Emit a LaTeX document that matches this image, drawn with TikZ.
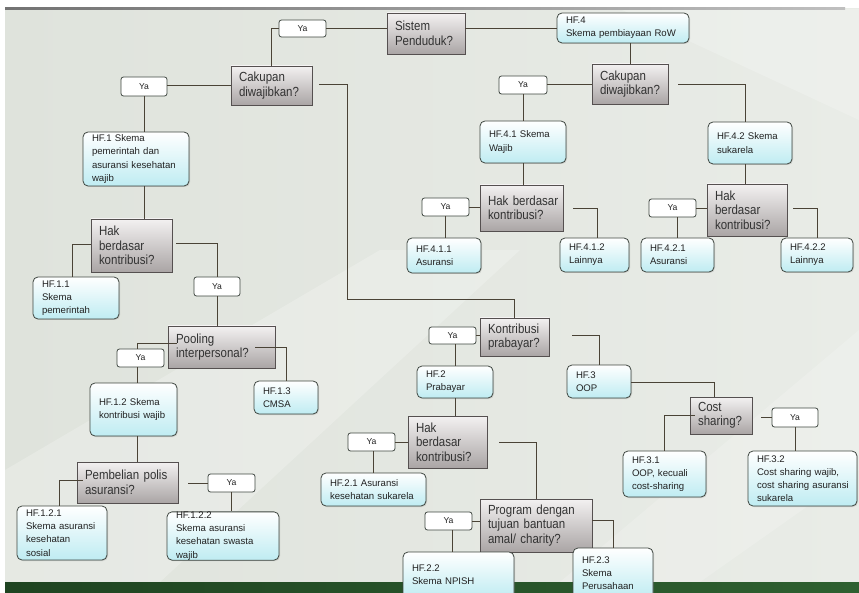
\documentclass[tikz,border=0pt]{standalone}
\usepackage{fontspec}
\setmainfont{Liberation Sans}
\newfontfamily\decfont[FakeStretch=0.87]{Liberation Sans}
\usetikzlibrary{shadows}
\definecolor{bgL}{HTML}{DFE3DC}
\definecolor{bgR}{HTML}{E9ECE7}
\definecolor{lnc}{HTML}{4A4336}
\definecolor{dbd}{HTML}{555050}
\definecolor{dtop}{HTML}{F3F1F1}
\definecolor{dbot}{HTML}{AAA5A5}
\definecolor{dtxt}{HTML}{333333}
\definecolor{rbd}{HTML}{3F4741}
\definecolor{rbot}{HTML}{BFECF2}
\definecolor{rtxt}{HTML}{222222}
\definecolor{gA}{HTML}{1F4421}
\definecolor{gB}{HTML}{4A8A3E}
\definecolor{gC}{HTML}{2E6030}
\hyphenpenalty=10000
\exhyphenpenalty=10000

\newcommand\DBox[6]{%
  \pgfmathsetlengthmacro\myBW{#4-#2}%
  \pgfmathsetlengthmacro\myBH{#5-#3}%
  \pgfmathsetlengthmacro\myTW{#4-#2-16}%
  \node[dbox, minimum width=\myBW, minimum height=\myBH, text width=\myTW] (#1) at ({(#2+#4)/2},{(#3+#5)/2}) {#6};}
\newcommand\RBox[6]{%
  \pgfmathsetlengthmacro\myBW{#4-#2}%
  \pgfmathsetlengthmacro\myBH{#5-#3}%
  \pgfmathsetlengthmacro\myTW{#4-#2-18}%
  \node[rbox, minimum width=\myBW, minimum height=\myBH, text width=\myTW] (#1) at ({(#2+#4)/2},{(#3+#5)/2}) {#6};}
\newcommand\YBox[5]{%
  \pgfmathsetlengthmacro\myBW{#4-#2}%
  \pgfmathsetlengthmacro\myBH{#5-#3}%
  \node[ybox, minimum width=\myBW, minimum height=\myBH] (#1) at ({(#2+#4)/2},{(#3+#5)/2}) {Ya};}

\begin{document}
\begin{tikzpicture}[x=1pt,y=-1pt,
  conn/.style={draw=lnc, line width=0.9pt},
  dbox/.style={draw=dbd, line width=0.8pt, top color=dtop, bottom color=dbot,
    inner sep=0pt, align=left, text=dtxt,
    font=\decfont\fontsize{13.2}{14.5}\selectfont,
    drop shadow={shadow xshift=1.2pt, shadow yshift=-1.2pt, opacity=0.3}},
  rbox/.style={draw=rbd, line width=0.8pt, rounded corners=5pt,
    top color=white, bottom color=rbot, inner sep=0pt, align=left, text=rtxt,
    font=\fontsize{9.6}{13.2}\selectfont,
    drop shadow={shadow xshift=1pt, shadow yshift=-1pt, opacity=0.25}},
  ybox/.style={draw=rbd, line width=0.8pt, rounded corners=2.5pt, fill=white,
    inner sep=0pt, text=rtxt, font=\fontsize{8.6}{9}\selectfont}]
\useasboundingbox (0,0) rectangle (859,593);
% background
\fill[white] (0,0) rectangle (859,593);
\shade[left color=bgL, right color=bgR] (5,9) rectangle (859,582);
\fill[white, opacity=0.22] (5,470) -- (380,250) -- (520,250) -- (160,582) -- (5,582) -- cycle;
\fill[white, opacity=0.18] (560,582) -- (859,330) -- (859,470) -- (700,582) -- cycle;
\fill[white, opacity=0.2] (620,9) -- (859,9) -- (859,120) -- cycle;
\shade[left color=black!55, right color=black!25] (5,7.5) rectangle (845,9.5);
\shade[left color=gA, middle color=gB, right color=gC] (5,582) rectangle (859,593);

% decision boxes
\DBox{sp}{387}{13}{465}{54}{Sistem\\Penduduk?}
\DBox{cak1}{231}{66}{312}{105}{Cakupan\\diwajibkan?}
\DBox{cak4}{592}{64}{668}{104}{Cakupan\\diwajibkan?}
\DBox{hak1}{91}{219}{172}{272}{Hak\\berdasar\\kontribusi?}
\DBox{pool}{168}{326}{275}{368}{Pooling\\interpersonal?}
\DBox{pemb}{77}{462}{178}{503}{Pembelian~polis\\asuransi?}
\DBox{hak41}{480}{185}{563}{231}{Hak~berdasar\\kontribusi?}
\DBox{hak42}{707}{184}{787}{236}{Hak\\berdasar\\kontribusi?}
\DBox{kon}{480}{318}{549}{356}{Kontribusi\\prabayar?}
\DBox{hak2}{408}{416}{487}{468}{Hak\\berdasar\\kontribusi?}
\DBox{prog}{480}{499}{592}{552}{Program~dengan\\tujuan~bantuan\\amal/~charity?}
\DBox{cost}{690}{397}{752}{434}{Cost\\sharing?}

% result boxes
\RBox{hf4}{557}{13}{689}{43}{HF.4\\Skema~pembiayaan~RoW}
\RBox{hf1}{83}{132}{189}{186}{HF.1~Skema\\pemerintah~dan\\asuransi~kesehatan\\wajib}
\RBox{hf41}{480}{121}{566}{163}{HF.4.1~Skema\\Wajib}
\RBox{hf42}{708}{122}{792}{164}{HF.4.2~Skema\\sukarela}
\RBox{hf411}{407}{238}{481}{273}{HF.4.1.1\\Asuransi}
\RBox{hf412}{560}{238}{629}{272}{HF.4.1.2\\Lainnya}
\RBox{hf421}{641}{238}{714}{272}{HF.4.2.1\\Asuransi}
\RBox{hf422}{781}{238}{853}{272}{HF.4.2.2\\Lainnya}
\RBox{hf11}{33}{277}{119}{319}{HF.1.1\\Skema\\pemerintah}
\RBox{hf13}{254}{381}{318}{414}{HF.1.3\\CMSA}
\RBox{hf12}{90}{383}{177}{436}{HF.1.2~Skema\\kontribusi~wajib}
\RBox{hf121}{17}{506}{107}{560}{HF.1.2.1\\Skema~asuransi\\kesehatan\\sosial}
\RBox{hf122}{167}{512}{279}{560}{HF.1.2.2\\Skema~asuransi\\kesehatan~swasta\\wajib}
\RBox{hf21}{321}{473}{426}{506}{HF.2.1~Asuransi\\kesehatan~sukarela}
\RBox{hf2}{417}{366}{493}{398}{HF.2\\Prabayar}
\RBox{hf3}{567}{365}{631}{398}{HF.3\\OOP}
\RBox{hf31}{623}{451}{706}{497}{HF.3.1\\OOP,~kecuali\\cost-sharing}
\RBox{hf32}{748}{451}{857}{506}{HF.3.2\\Cost~sharing~wajib,\\cost~sharing~asuransi\\sukarela}
\RBox{hf22}{403}{552}{514}{598}{HF.2.2\\Skema~NPISH}
\RBox{hf23}{573}{548}{653}{598}{HF.2.3\\Skema\\Perusahaan}

% Ya boxes
\YBox{y0}{279}{20}{326}{37}
\YBox{y1}{121}{77}{167}{96}
\YBox{y4}{499}{76}{547}{94}
\YBox{yh1}{194}{277}{240}{296}
\YBox{ypool}{117}{349}{164}{367}
\YBox{ypemb}{208}{474}{255}{492}
\YBox{yh41}{422}{198}{469}{216}
\YBox{yh42}{649}{199}{696}{217}
\YBox{ykon}{429}{327}{476}{344}
\YBox{yh2}{348}{433}{395}{451}
\YBox{yprog}{425}{512}{472}{530}
\YBox{ycost}{772}{408}{818}{427}

% connectors
\draw[conn] (y0.east) -- (y0.east -| sp.west);
\draw[conn] (y0.west) -| (cak1.north);
\draw[conn] (hf4.west) -- (hf4.west -| sp.east);
\draw[conn] (cak4.north) -- (cak4.north |- hf4.south);
\draw[conn] (cak1.west) -- (cak1.west -| y1.east);
\draw[conn] (y1.south) -- (y1.south |- hf1.north);
\draw[conn] ([xshift=7pt,yshift=1.5pt]cak1.east) -- ++(28,0) -- ++(0,215) -| (kon.north);
\draw[conn] (y1.south |- hf1.south) -- (y1.south |- hak1.north);
\draw[conn] ([yshift=1.5pt]hak1.west) -| ([xshift=-4pt]hf11.north);
\draw[conn] ([xshift=4pt,yshift=2.5pt]hak1.east) -| (yh1.north);
\draw[conn] (yh1.south) -- (yh1.south |- pool.north);
\draw[conn] ([xshift=9pt,yshift=4pt]pool.west) -| ([xshift=-3.5pt]ypool.north);
\coordinate (vx1) at ([xshift=-3.5pt]ypool.south);
\draw[conn] (vx1) -- (vx1 |- hf12.north);
\draw[conn] (vx1 |- hf12.south) -- (vx1 |- pemb.north);
\draw[conn] ([xshift=-20pt]pool.east) -| (hf13.north);
\draw[conn] ([xshift=6pt,yshift=2.5pt]pemb.west) -| ([xshift=-3pt]hf121.north);
\draw[conn] (ypemb.west) -- ++(-20,0);
\draw[conn] (ypemb.south) -- (ypemb.south |- hf122.north);
\draw[conn] (cak4.west) -- (cak4.west -| y4.east);
\draw[conn] (y4.south) -- (y4.south |- hf41.north);
\draw[conn] ([xshift=10pt]cak4.east) -| ([xshift=-5pt]hf42.north);
\draw[conn] (hf41.south) -- (hf41.south |- hak41.north);
\draw[conn] (yh41.east) -- (yh41.east -| hak41.west);
\draw[conn] (yh41.south) -- (yh41.south |- hf411.north);
\draw[conn] ([xshift=10pt]hak41.east) -| ([xshift=3pt]hf412.north);
\coordinate (vx2) at ([xshift=-5pt]hf42.south);
\draw[conn] (vx2) -- (vx2 |- hak42.north);
\draw[conn] (yh42.east) -- (yh42.east -| hak42.west);
\draw[conn] (hf421.north) -- (hf421.north |- yh42.south);
\draw[conn] ([xshift=6pt,yshift=2pt]hak42.east) -| (hf422.north);
\draw[conn] (ykon.east) -- (ykon.east -| kon.west);
\draw[conn] (hf2.north) -- (hf2.north |- ykon.south);
\draw[conn] ([xshift=23pt,yshift=2pt]kon.east) -| (hf3.north);
\draw[conn] (hf2.south) -- (hf2.south |- hak2.north);
\draw[conn] (yh2.east) -- (yh2.east -| hak2.west);
\draw[conn] (hf21.north) -- (hf21.north |- yh2.south);
\draw[conn] ([xshift=12pt]hak2.east) -| (prog.north);
\draw[conn] (yprog.east) -- (yprog.east -| prog.west);
\coordinate (vx3) at ([xshift=4pt]yprog.south);
\draw[conn] (vx3) -- (vx3 |- hf22.north);
\draw[conn] ([yshift=5pt]prog.east) -| (hf23.north);
\draw[conn] ([yshift=-1pt]hf3.east) -| ([xshift=-7pt]cost.north);
\draw[conn] ([xshift=5pt]cost.west) -| (hf31.north);
\draw[conn] (ycost.west) -- ++(-11,0);
\draw[conn] (ycost.south) -- (ycost.south |- hf32.north);
\end{tikzpicture}
\end{document}
